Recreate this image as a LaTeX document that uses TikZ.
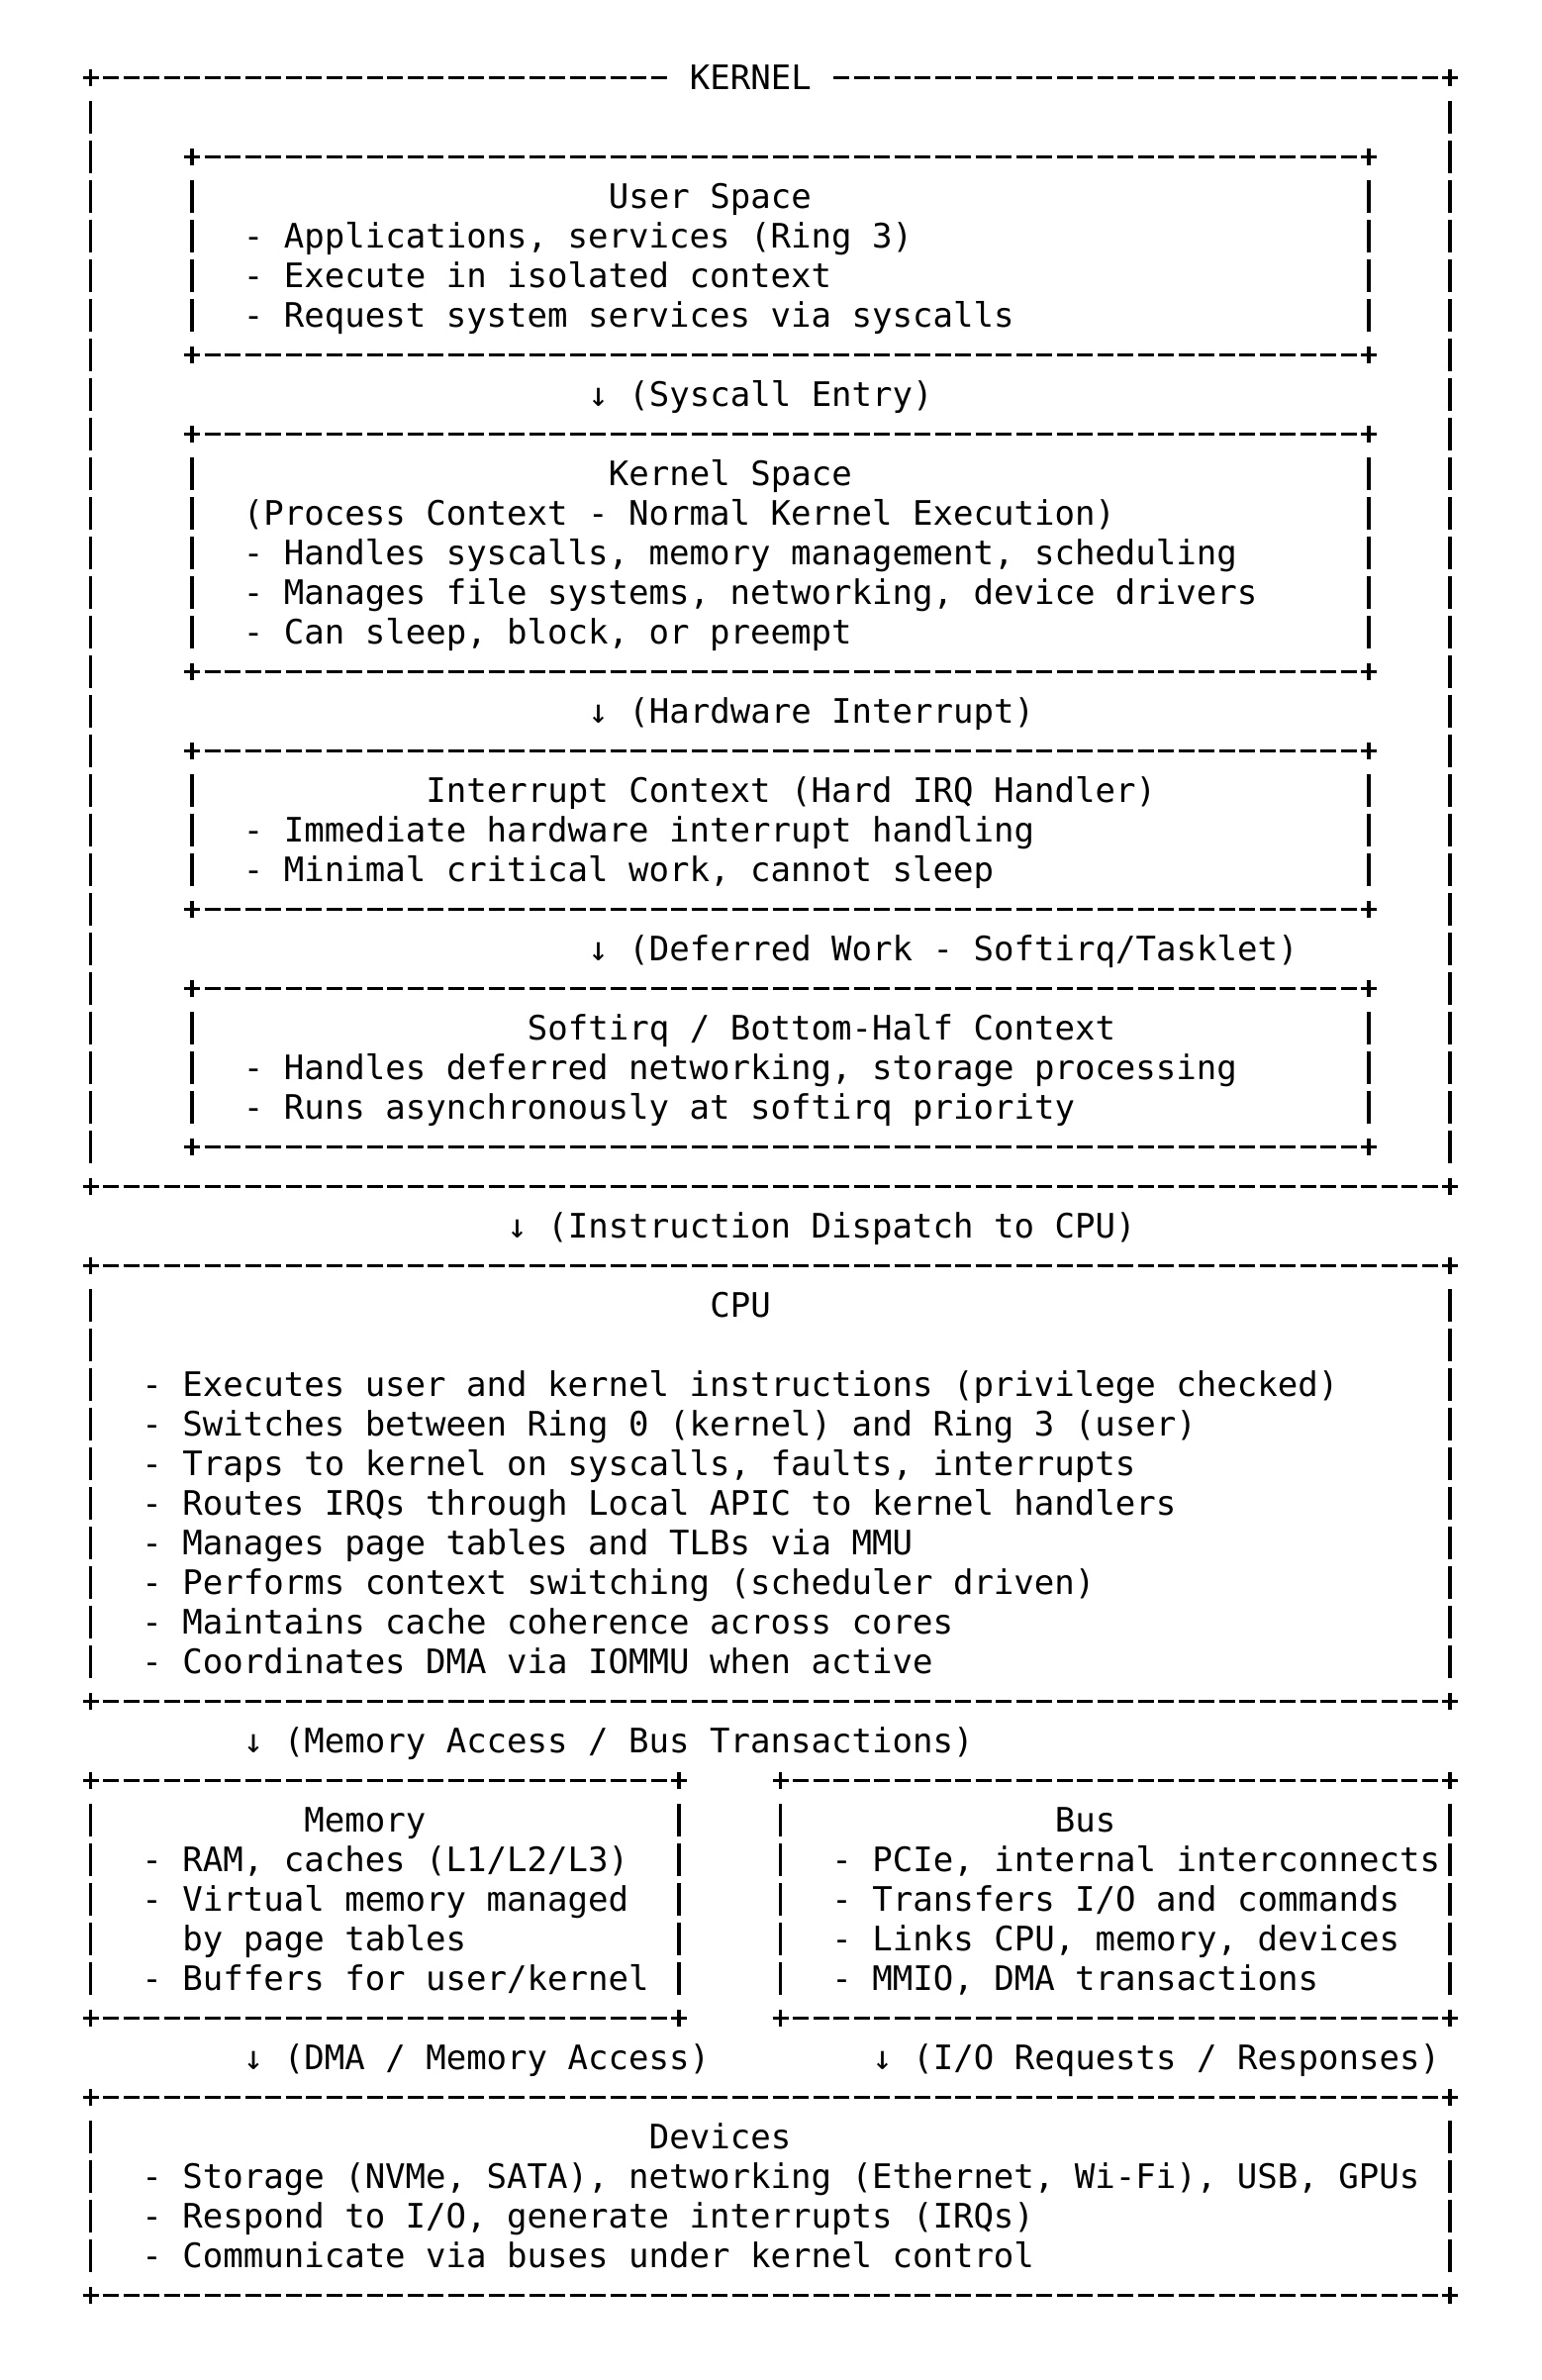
\documentclass[tikz,border=0pt]{standalone}
\usepackage{fontspec}
\setmonofont{DejaVu Sans Mono}

\begin{document}
\begin{tikzpicture}[x=10.25pt,y=-20pt,
  font=\ttfamily\fontsize{17.02pt}{20pt}\selectfont,
  ln/.style={line width=1.7pt,line cap=butt},
  txt/.style={anchor=base west,inner sep=0pt,yshift=-6.3pt}]
\useasboundingbox (-4.473,-1.958) rectangle (71.527,58.143);
% ascii borders: one column = one character, one row = one line
\def\dashes#1#2#3{\foreach \cc in {#1,...,#2} \draw[ln] (\cc-0.39,#3) -- (\cc+0.39,#3);}
\def\bars#1#2#3{\foreach \rr in {#2,...,#3} \draw[ln] (#1,\rr-0.41) -- (#1,\rr+0.41);}
\def\tick#1#2{\draw[ln] (#1,#2-0.2) -- (#1,#2+0.22);}
\def\asciibox#1#2#3#4{%
  \pgfmathtruncatemacro\ra{#2+1}\pgfmathtruncatemacro\rb{#4-1}%
  \dashes{#1}{#3}{#2}\dashes{#1}{#3}{#4}%
  \bars{#1}{\ra}{\rb}\bars{#3}{\ra}{\rb}%
  \tick{#1}{#2}\tick{#3}{#2}\tick{#1}{#4}\tick{#3}{#4}}
% kernel frame
\dashes{0}{28}{0}
\dashes{37}{67}{0}
\dashes{0}{67}{28}
\bars{0}{1}{27}
\bars{67}{1}{27}
\tick{0}{0}\tick{67}{0}\tick{0}{28}\tick{67}{28}
\node[txt] (kernel) at (29.5,0) {KERNEL};
% user space
\asciibox{5}{2}{63}{7}
\node[txt] (user) at (25.5,3) {User Space};
\node[txt] (user-a) at (7.5,4) {- Applications, services (Ring 3)};
\node[txt] (user-b) at (7.5,5) {- Execute in isolated context};
\node[txt] (user-c) at (7.5,6) {- Request system services via syscalls};
\node[txt] (syscall) at (24.5,8) {↓ (Syscall Entry)};
% kernel space
\asciibox{5}{9}{63}{15}
\node[txt] (kspace) at (25.5,10) {Kernel Space};
\node[txt] (kspace-ctx) at (7.5,11) {(Process Context - Normal Kernel Execution)};
\node[txt] (kspace-a) at (7.5,12) {- Handles syscalls, memory management, scheduling};
\node[txt] (kspace-b) at (7.5,13) {- Manages file systems, networking, device drivers};
\node[txt] (kspace-c) at (7.5,14) {- Can sleep, block, or preempt};
\node[txt] (hwirq) at (24.5,16) {↓ (Hardware Interrupt)};
% interrupt context
\asciibox{5}{17}{63}{21}
\node[txt] (irq) at (16.5,18) {Interrupt Context (Hard IRQ Handler)};
\node[txt] (irq-a) at (7.5,19) {- Immediate hardware interrupt handling};
\node[txt] (irq-b) at (7.5,20) {- Minimal critical work, cannot sleep};
\node[txt] (deferred) at (24.5,22) {↓ (Deferred Work - Softirq/Tasklet)};
% softirq
\asciibox{5}{23}{63}{27}
\node[txt] (softirq) at (21.5,24) {Softirq / Bottom-Half Context};
\node[txt] (softirq-a) at (7.5,25) {- Handles deferred networking, storage processing};
\node[txt] (softirq-b) at (7.5,26) {- Runs asynchronously at softirq priority};
\node[txt] (dispatch) at (20.5,29) {↓ (Instruction Dispatch to CPU)};
% cpu
\asciibox{0}{30}{67}{41}
\node[txt] (cpu) at (30.5,31) {CPU};
\node[txt] (cpu-a) at (2.5,33) {- Executes user and kernel instructions (privilege checked)};
\node[txt] (cpu-b) at (2.5,34) {- Switches between Ring 0 (kernel) and Ring 3 (user)};
\node[txt] (cpu-c) at (2.5,35) {- Traps to kernel on syscalls, faults, interrupts};
\node[txt] (cpu-d) at (2.5,36) {- Routes IRQs through Local APIC to kernel handlers};
\node[txt] (cpu-e) at (2.5,37) {- Manages page tables and TLBs via MMU};
\node[txt] (cpu-f) at (2.5,38) {- Performs context switching (scheduler driven)};
\node[txt] (cpu-g) at (2.5,39) {- Maintains cache coherence across cores};
\node[txt] (cpu-h) at (2.5,40) {- Coordinates DMA via IOMMU when active};
\node[txt] (membus) at (7.5,42) {↓ (Memory Access / Bus Transactions)};
% memory
\asciibox{0}{43}{29}{49}
\node[txt] (mem) at (10.5,44) {Memory};
\node[txt] (mem-a) at (2.5,45) {- RAM, caches (L1/L2/L3)};
\node[txt] (mem-b) at (2.5,46) {- Virtual memory managed};
\node[txt] (mem-b2) at (4.5,47) {by page tables};
\node[txt] (mem-c) at (2.5,48) {- Buffers for user/kernel};
% bus
\asciibox{34}{43}{67}{49}
\node[txt] (bus) at (47.5,44) {Bus};
\node[txt] (bus-a) at (36.5,45) {- PCIe, internal interconnects};
\node[txt] (bus-b) at (36.5,46) {- Transfers I/O and commands};
\node[txt] (bus-c) at (36.5,47) {- Links CPU, memory, devices};
\node[txt] (bus-d) at (36.5,48) {- MMIO, DMA transactions};
\node[txt] (dma) at (7.5,50) {↓ (DMA / Memory Access)};
\node[txt] (io) at (38.5,50) {↓ (I/O Requests / Responses)};
% devices
\asciibox{0}{51}{67}{56}
\node[txt] (dev) at (27.5,52) {Devices};
\node[txt] (dev-a) at (2.5,53) {- Storage (NVMe, SATA), networking (Ethernet, Wi-Fi), USB, GPUs};
\node[txt] (dev-b) at (2.5,54) {- Respond to I/O, generate interrupts (IRQs)};
\node[txt] (dev-c) at (2.5,55) {- Communicate via buses under kernel control};
\end{tikzpicture}
\end{document}
